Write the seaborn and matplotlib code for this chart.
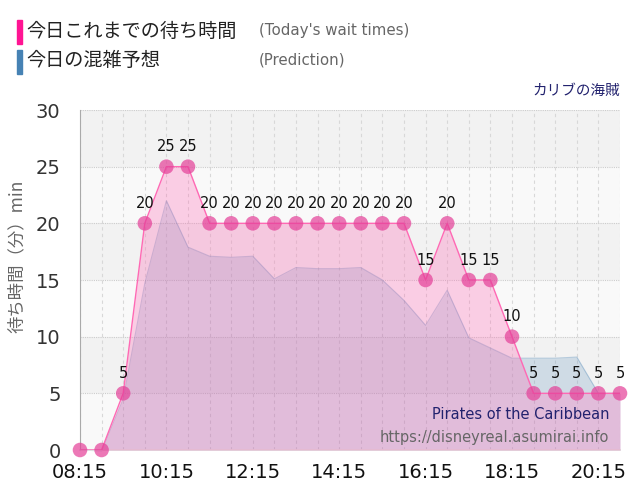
import numpy as np
import pandas as pd
import seaborn as sns
import matplotlib
matplotlib.use("Agg")
import matplotlib.pyplot as plt

# Data (every 30 minutes)
TIMES = ["08:15", "08:45", "09:15", "09:45", "10:15", "10:45", "11:15", "11:45",
         "12:15", "12:45", "13:15", "13:45", "14:15", "14:45", "15:15", "15:45",
         "16:15", "16:45", "17:15", "17:45", "18:15", "18:45", "19:15", "19:45",
         "20:15", "20:45"]
WAIT = [0, 0, 5, 20, 25, 25, 20, 20, 20, 20, 20, 20, 20, 20, 20, 20,
        15, 20, 15, 15, 10, 5, 5, 5, 5, 5]
PREDICTION = [0, -0.1, 4.5, 14.7, 22.0, 17.9, 17.1, 17.0, 17.1, 15.1, 16.1, 16.0,
              16.0, 16.1, 15.0, 13.2, 11.0, 14.1, 9.9, 9.0, 8.1, 8.1, 8.1, 8.2,
              5.0, 5.0]
XTICKS = ["08:15", "10:15", "12:15", "14:15", "16:15", "18:15", "20:15"]


def to_min(t):
    h, m = t.split(":")
    return int(h) * 60 + int(m)


df = pd.DataFrame({"time": TIMES, "wait": WAIT, "pred": PREDICTION})
df["minute"] = df["time"].map(to_min)

sns.set_theme(style="white")
plt.rcParams["font.family"] = ["DejaVu Sans", "Noto Sans CJK JP"]
JP = ["Noto Sans CJK JP", "DejaVu Sans"]

fig = plt.figure(figsize=(6.4, 5), dpi=100)
ax = fig.add_axes([80 / 640, 50 / 500, 540 / 640, 340 / 500])

x0, x1 = to_min("08:15"), to_min("20:45")
ax.set_xlim(x0, x1)
ax.set_ylim(0, 30)

# alternating background bands
for i, lo in enumerate(range(0, 30, 5)):
    ax.axhspan(lo, lo + 5, color="#f9f9f9" if i % 2 == 0 else "#f2f2f2", zorder=0, lw=0)

# grid
for m in range(x0, x1 + 1, 30):
    ax.axvline(m, color="#d8d8d8", lw=0.8, ls=(0, (3, 3)), zorder=1)
for y in range(5, 31, 5):
    ax.axhline(y, color="#cccccc", lw=0.8, ls=(0, (1, 1)), zorder=1)

# prediction area
ax.fill_between(df["minute"], 0, df["pred"], color="#4682b4", alpha=0.2, lw=0, zorder=2)
sns.lineplot(data=df, x="minute", y="pred", color="#4682b4", alpha=0.35, lw=0.8, ax=ax, zorder=3)

# today's wait times
ax.fill_between(df["minute"], 0, df["wait"], color="#ff69b4", alpha=0.3, lw=0, zorder=4)
sns.lineplot(data=df, x="minute", y="wait", color="#ff69b4", lw=1.0, ax=ax, zorder=5)
sns.scatterplot(data=df, x="minute", y="wait", color="#e43f98", alpha=0.7,
                s=110, edgecolor="none", ax=ax, zorder=6)
for c in ax.collections:
    c.set_clip_on(False)

for _, r in df.iterrows():
    if r["wait"] > 0:
        ax.text(r["minute"], r["wait"] + 1.1, f"{r['wait']:.0f}", ha="center", va="bottom",
                fontsize=10.5, color="#111111", zorder=7)

ax.set_xticks([to_min(t) for t in XTICKS])
ax.set_xticklabels(XTICKS, fontsize=14, color="#111111")
ax.set_yticks(range(0, 31, 5))
ax.tick_params(axis="y", labelsize=14, labelcolor="#333333", length=0, pad=14)
ax.tick_params(axis="x", length=0, pad=9)
ax.set_xlabel("")
ax.set_ylabel("待ち時間（分）min", family=JP, fontsize=12.5, color="#666666")
ax.yaxis.set_label_coords(-0.1, 0.57)
for side in ["top", "right"]:
    ax.spines[side].set_visible(False)
ax.spines["left"].set_color("#aaaaaa")
ax.spines["bottom"].set_color("#dddddd")
ax.spines["left"].set_linewidth(0.8)

# watermark
ax.text(0.98, 0.103, "Pirates of the Caribbean", transform=ax.transAxes, ha="right",
        va="center", fontsize=10.5, color="#22226e", zorder=8)
ax.text(0.98, 0.038, "https://disneyreal.asumirai.info", transform=ax.transAxes, ha="right",
        va="center", fontsize=10.5, color="#666666", zorder=8)

# header / legend
fig.add_artist(plt.Rectangle((17 / 640, 1 - 44 / 500), 5 / 640, 24 / 500,
                             color="#ff1493", transform=fig.transFigure))
fig.add_artist(plt.Rectangle((17 / 640, 1 - 74 / 500), 5 / 640, 24 / 500,
                             color="#4682b4", transform=fig.transFigure))
fig.text(26 / 640, 1 - 31 / 500, "今日これまでの待ち時間", family=JP, fontsize=13.8,
         color="#222222", va="center")
fig.text(259 / 640, 1 - 31 / 500, "(Today's wait times)", fontsize=10.8, color="#666666", va="center")
fig.text(26 / 640, 1 - 60 / 500, "今日の混雑予想", family=JP, fontsize=13.8,
         color="#222222", va="center")
fig.text(259 / 640, 1 - 60 / 500, "(Prediction)", fontsize=10.8, color="#666666", va="center")
fig.text(620 / 640, 1 - 91 / 500, "カリブの海賊", family=JP, fontsize=10.5,
         color="#22226e", ha="right", va="center")

fig.savefig("out.png", dpi=100)
